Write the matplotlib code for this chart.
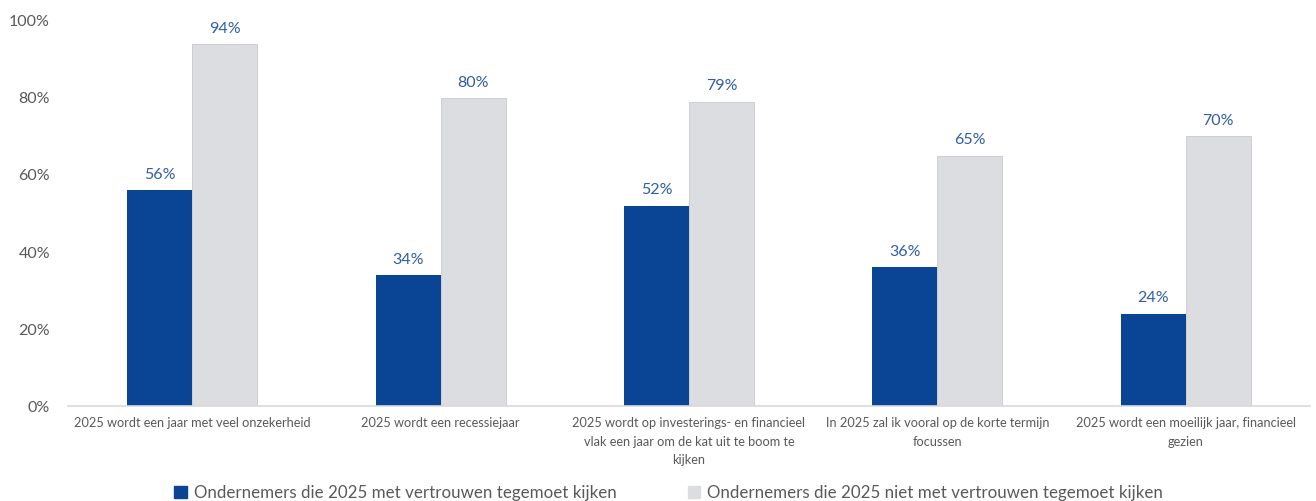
import matplotlib
matplotlib.use("Agg")
import matplotlib.pyplot as plt
import numpy as np

categories = [
    "2025 wordt een jaar met veel onzekerheid",
    "2025 wordt een recessiejaar",
    "2025 wordt op investerings- en financieel\nvlak een jaar om de kat uit te boom te\nkijken",
    "In 2025 zal ik vooral op de korte termijn\nfocussen",
    "2025 wordt een moeilijk jaar, financieel\ngezien",
]
series_names = [
    "Ondernemers die 2025 met vertrouwen tegemoet kijken",
    "Ondernemers die 2025 niet met vertrouwen tegemoet kijken",
]
met_vertrouwen = [56, 34, 52, 36, 24]
niet_vertrouwen = [94, 80, 79, 65, 70]
yticks = [0, 20, 40, 60, 80, 100]

plt.rcParams['font.family'] = ['Lato', 'DejaVu Sans']

fig = plt.figure(figsize=(13.16, 5.01), dpi=100)
ax = fig.add_axes([0.0517, 0.1896, 0.9437, 0.7685])

x = np.arange(len(categories))
w = 0.262
blue = "#0A4494"
gray = "#DCDDE0"
b1 = ax.bar(x - w/2, met_vertrouwen, w, color=blue, label=series_names[0])
b2 = ax.bar(x + w/2, niet_vertrouwen, w, color=gray, edgecolor="#C9CACD", linewidth=0.6, label=series_names[1])

lab_color = "#2F5DA6"
for bars, vals in ((b1, met_vertrouwen), (b2, niet_vertrouwen)):
    for r, v in zip(bars, vals):
        ax.text(r.get_x() + r.get_width()/2, v + 2.2, f"{v}%", ha="center", va="bottom",
                fontsize=11.5, color=lab_color)

ax.set_xlim(-0.5, len(categories) - 0.5)
ax.set_ylim(0, 100)
ax.set_yticks(yticks)
ax.set_yticklabels([f"{t}%" for t in yticks], fontsize=11.5, color="#595959")
ax.set_xticks(x)
ax.set_xticklabels(categories, fontsize=9.2, color="#595959", linespacing=1.65, va="top")
ax.tick_params(axis="both", length=0)
ax.tick_params(axis="y", pad=13)
ax.tick_params(axis="x", pad=8)
for s in ("top", "right", "left"):
    ax.spines[s].set_visible(False)
ax.spines["bottom"].set_color("#D9D9D9")
ax.spines["bottom"].set_linewidth(1.2)

handles = [plt.Rectangle((0, 0), 1, 1, color=blue),
           plt.Rectangle((0, 0), 1, 1, color=gray)]
fig.legend(handles, series_names, loc="lower center", bbox_to_anchor=(0.508, -0.03), ncol=2,
           frameon=False, fontsize=12.2, handlelength=0.75, handleheight=0.75,
           handletextpad=0.4, columnspacing=4.2, labelcolor="#595959")

fig.savefig("out.png", dpi=100)
